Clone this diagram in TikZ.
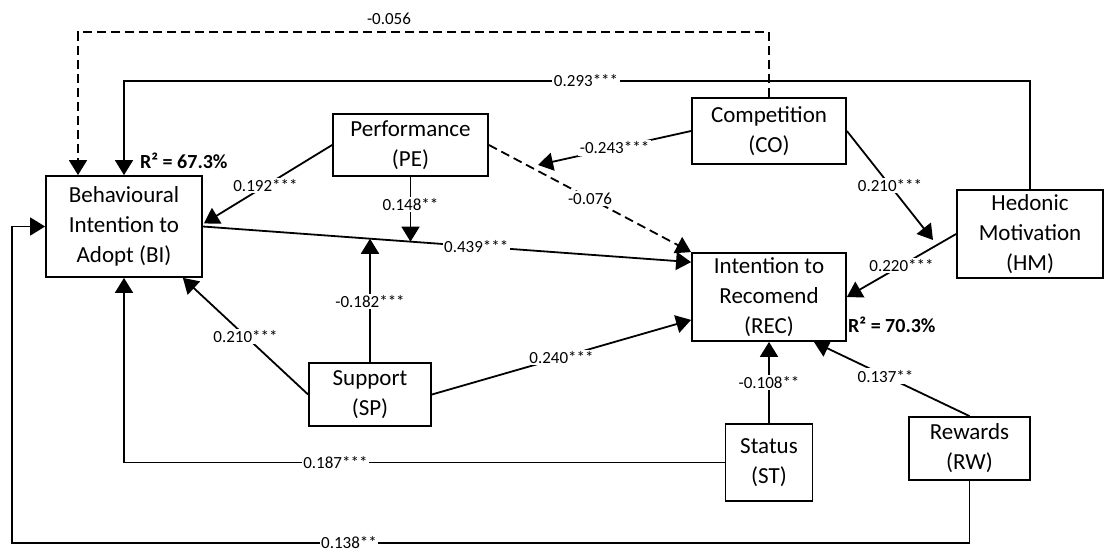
\documentclass[tikz,border=0pt]{standalone}
\usepackage{fontspec}
\setmainfont{Carlito}
\usetikzlibrary{arrows.meta,calc}
\begin{document}
\begin{tikzpicture}[x=1pt,y=-1pt,
  box/.style={draw, line width=1.8pt, align=center, font=\fontsize{23}{30}\selectfont, inner sep=0pt, fill=white},
  conn/.style={line width=1.8pt},
  arr/.style={conn, -{Triangle[length=15pt,width=18pt]}},
  lbl/.style={fill=white, inner sep=1.5pt, font=\fontsize{17}{18}\selectfont},
  rsq/.style={anchor=west, inner sep=0pt, font=\bfseries\fontsize{20}{24}\selectfont},
  dsh/.style={dash pattern=on 9pt off 5pt}]
\useasboundingbox (0,0) rectangle (1105,549);

\node[box, minimum width=156pt, minimum height=101pt] (BI) at (124,226.5) {Behavioural\\Intention to\\Adopt (BI)};
\node[box, minimum width=155pt, minimum height=62pt] (PE) at (410.5,145) {Performance\\(PE)};
\node[box, minimum width=154pt, minimum height=66pt] (CO) at (769,131) {Competition\\(CO)};
\node[box, minimum width=146pt, minimum height=88pt] (HM) at (1030,234) {Hedonic\\Motivation\\(HM)};
\node[box, minimum width=154pt, minimum height=88pt] (REC) at (769,297) {Intention to\\Recomend\\(REC)};
\node[box, minimum width=122pt, minimum height=63pt] (SP) at (370,394.5) {Support\\(SP)};
\node[box, minimum width=87pt, minimum height=77pt] (ST) at (769,462.5) {Status\\(ST)};
\node[box, minimum width=121pt, minimum height=63pt] (RW) at (969.5,448.5) {Rewards\\(RW)};

\coordinate (t1) at (78,32);
\coordinate (t2) at (124,81);
\coordinate (b1) at (12,543);
\coordinate (m3) at (538,165);
\coordinate (m4) at (933,240);

\draw[arr,dsh] (CO.north) |- (t1) -- (t1 |- BI.north);
\node[lbl] (l056) at (389,19) {-0.056};
\draw[arr] (HM.north) |- node[lbl,pos=0.745]{0.293***} (t2) -- (BI.north);

\draw[arr] (PE.west) -- node[lbl,pos=0.52]{0.192***} ($(BI.east)+(1,-3)$);
\draw[arr] (BI.east) -- node[lbl,pos=0.56]{0.439***} coordinate[pos=0.426](m1) coordinate[pos=0.344](m2) ($(REC.north west)+(0,10)$);
\draw[arr] (PE.south) -- node[lbl,pos=0.42]{0.148**} (PE.south |- m1);
\draw[arr] (SP.north) -- node[lbl,pos=0.49]{-0.182***} (SP.north |- m2);
\draw[arr,dsh] (PE.east) -- node[lbl]{-0.076} (REC.north west);
\draw[arr] (CO.west) -- node[lbl]{-0.243***} (m3);
\draw[arr] (CO.east) -- node[lbl]{0.210***} (m4);
\draw[arr] (HM.west) -- node[lbl]{0.220***} (REC.east);
\draw[arr] (SP.west) -- node[lbl]{0.210***} ($(BI.south east)+(-20,0)$);
\draw[arr] (SP.east) -- node[lbl]{0.240***} ($(REC.south west)+(0,-22)$);
\draw[arr] (ST.west) -| node[lbl,pos=0.324]{0.187***} (BI.south);
\draw[arr] (RW.south) |- node[lbl,pos=0.824]{0.138**} (b1) |- (BI.west);
\draw[arr] (ST.north) -- node[lbl]{-0.108**} (REC.south);
\draw[arr] (RW.north) -- node[lbl,pos=0.54]{0.137**} ($(REC.south east)+(-33,0)$);

\node[rsq] (r1) at (140,161) {R² = 67.3\%};
\node[rsq] (r2) at (848,325) {R² = 70.3\%};
\end{tikzpicture}
\end{document}
